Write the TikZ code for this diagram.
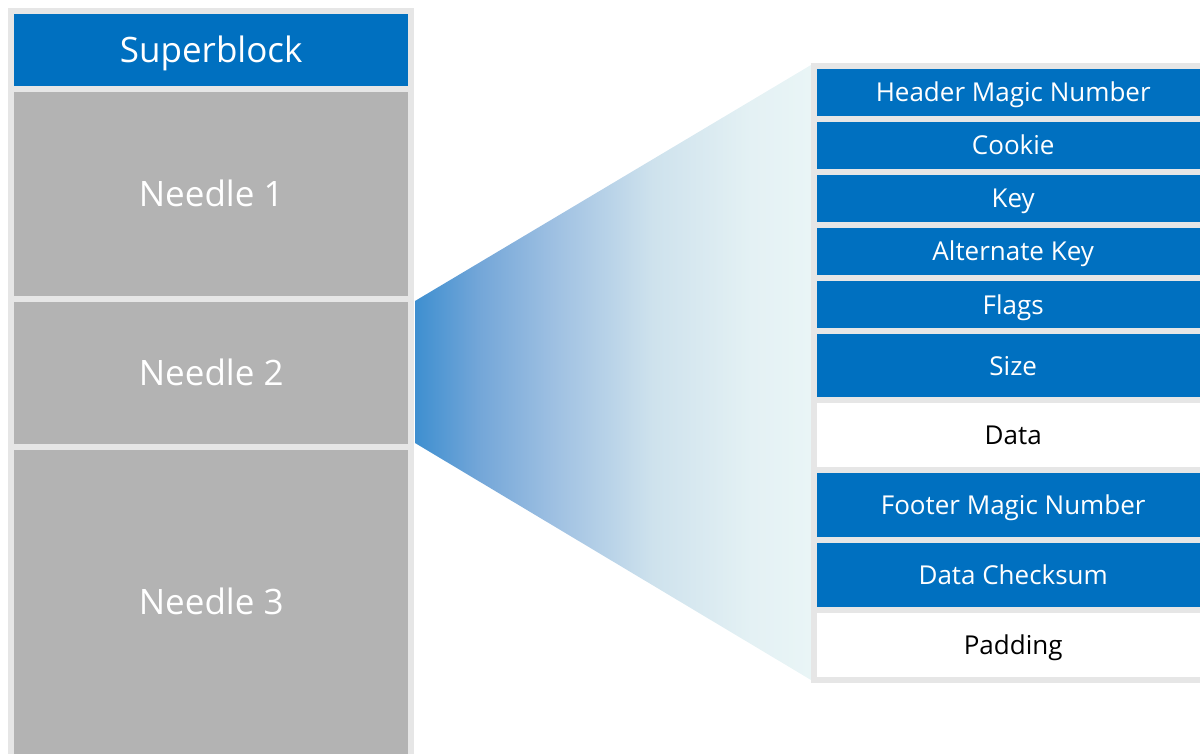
\documentclass[tikz,border=0pt]{standalone}
\usepackage{fontspec}
\setmainfont{Open Sans}
\definecolor{cellblue}{HTML}{0070C0}
\definecolor{cellgray}{HTML}{B3B3B3}
\definecolor{framegray}{HTML}{E6E6E6}
\pgfdeclarehorizontalshading{fan}{100bp}{%
  rgb(0bp)=(0.243,0.561,0.816);
  rgb(25bp)=(0.243,0.561,0.816);
  rgb(33bp)=(0.451,0.651,0.847);
  rgb(42.5bp)=(0.620,0.753,0.886);
  rgb(55bp)=(0.808,0.886,0.929);
  rgb(67.5bp)=(0.894,0.945,0.957);
  rgb(75bp)=(0.914,0.961,0.965);
  rgb(100bp)=(0.914,0.961,0.965)}
\begin{document}
\begin{tikzpicture}[x=1pt,y=-1pt,
  frame/.style={fill=framegray,draw=none,inner sep=0pt,anchor=north west},
  cell/.style={draw=none,inner sep=0pt,anchor=north west,text=white,text depth=0pt},
  bluecell/.style={cell,fill=cellblue},
  graycell/.style={cell,fill=cellgray},
  whitecell/.style={cell,fill=white,text=black},
  big/.style={font=\fontsize{35}{40}\selectfont,text height=25pt},
  small/.style={font=\fontsize{26}{30}\selectfont,text height=18.6pt}]
\useasboundingbox (0,0) rectangle (1200,754);
\clip (0,0) rectangle (1200,754);

% fan from needle 2 out to the needle layout
\coordinate (fa) at (415,301);
\coordinate (fb) at (811,65);
\coordinate (fc) at (811,680);
\coordinate (fd) at (415,443);
\shade[shading=fan] (fa) -- (fb) -- (fc) -- (fd) -- cycle;

% left column: superblock followed by needles
\node[frame,minimum width=406pt,minimum height=752pt] (leftcol) at (8,8) {};
\node[bluecell,big,minimum width=394pt,minimum height=72pt] (sb) at (14,14) {Superblock};
\node[graycell,big,minimum width=394pt,minimum height=204pt] (n1) at (14,92) {Needle 1};
\node[graycell,big,minimum width=394pt,minimum height=142pt] (n2) at (14,302) {Needle 2};
\node[graycell,big,minimum width=394pt,minimum height=304pt] (n3) at (14,450) {Needle 3};

% right column: fields of one needle
\node[frame,minimum width=404pt,minimum height=620pt] (rightcol) at (811,63) {};
\node[bluecell,small,minimum width=392pt,minimum height=47pt] (hdr) at (817,69) {Header Magic Number};
\node[bluecell,small,minimum width=392pt,minimum height=47pt] (cookie) at (817,122) {Cookie};
\node[bluecell,small,minimum width=392pt,minimum height=47pt] (key) at (817,175) {Key};
\node[bluecell,small,minimum width=392pt,minimum height=47pt] (altkey) at (817,228) {Alternate Key};
\node[bluecell,small,minimum width=392pt,minimum height=47pt] (flags) at (817,281) {Flags};
\node[bluecell,small,minimum width=392pt,minimum height=63pt] (size) at (817,334) {Size};
\node[whitecell,small,minimum width=392pt,minimum height=64pt] (data) at (817,403) {Data};
\node[bluecell,small,minimum width=392pt,minimum height=64pt] (footer) at (817,473) {Footer Magic Number};
\node[bluecell,small,minimum width=392pt,minimum height=64pt] (cksum) at (817,543) {Data Checksum};
\node[whitecell,small,minimum width=392pt,minimum height=64pt] (pad) at (817,613) {Padding};
\end{tikzpicture}
\end{document}
